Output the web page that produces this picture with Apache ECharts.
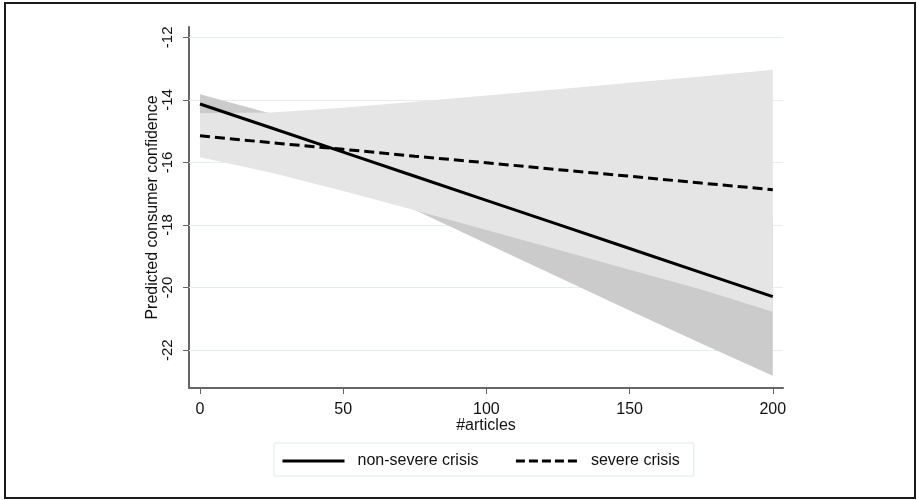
<!DOCTYPE html>
<html>
<head>
<meta charset="utf-8">
<script src="https://cdn.jsdelivr.net/npm/echarts@6/dist/echarts.min.js"></script>
<style>
html,body{margin:0;padding:0;background:#fff;}
#chart{width:917px;height:500px;}
</style>
</head>
<body>
<div id="chart"></div>
<script>
// ---- data ----
const xs = [0, 25, 50, 75, 100, 125, 150, 175, 200];
const nonSevere     = [-14.13, -14.90, -15.67, -16.44, -17.21, -17.98, -18.75, -19.52, -20.29];
const nonSevereLow  = [-14.44, -15.36, -16.43, -17.52, -18.59, -19.66, -20.73, -21.79, -22.82];
const nonSevereHigh = [-13.82, -14.44, -14.91, -15.36, -15.83, -16.30, -16.77, -17.25, -17.76];
const severe        = [-15.15, -15.37, -15.58, -15.80, -16.01, -16.23, -16.44, -16.66, -16.87];
const severeLow     = [-15.83, -16.33, -16.91, -17.53, -18.16, -18.79, -19.43, -20.06, -20.77];
const severeHigh    = [-14.43, -14.40, -14.25, -14.06, -13.86, -13.66, -13.45, -13.25, -13.04];
const xTicks = [0, 50, 100, 150, 200];
const yTicks = [-22, -20, -18, -16, -14, -12];
const seriesNames = ['non-severe crisis', 'severe crisis'];
const xTitle = '#articles';
const yTitle = 'Predicted consumer confidence';

const pairs = (arr) => xs.map((x, i) => [x, arr[i]]);
const triples = (lo, hi) => xs.map((x, i) => [x, lo[i], hi[i]]);

const FONT = 'Liberation Sans';
const chart = echarts.init(document.getElementById('chart'), null, {renderer: 'canvas'});

// confidence band drawn as one polygon through the axis scales
const band = (name, lo, hi, color, z, withGrid) => ({
  name, type: 'custom', z, silent: true,
  data: triples(lo, hi),
  encode: {x: 0, y: [1, 2]},
  renderItem: (params, api) => {
    if (params.dataIndex !== 0) return null;
    const top = xs.map((x, i) => api.coord([x, hi[i]]));
    const bot = xs.map((x, i) => api.coord([x, lo[i]])).reverse();
    return {
      type: 'polygon',
      shape: {points: top.concat(bot)},
      style: {fill: color, stroke: null}
    };
  },
  markLine: withGrid ? {
    silent: true, symbol: 'none', z: 1,
    label: {show: false},
    lineStyle: {color: '#e2eef0', width: 1, type: 'solid'},
    data: yTicks.map(v => ({yAxis: v}))
  } : undefined
});

chart.setOption({
  animation: false,
  backgroundColor: '#ffffff',
  graphic: [{
    type: 'rect', shape: {x: 5, y: 3, width: 910, height: 495},
    style: {fill: 'none', stroke: '#1a1a1a', lineWidth: 2}, z: 0
  }],
  grid: {left: 189, right: 134, top: 27, bottom: 112, containLabel: false},
  xAxis: {
    type: 'value', min: -3.84, max: 203.56,
    name: xTitle, nameLocation: 'middle', nameGap: 30, nameMoveOverlap: false,
    nameTextStyle: {fontFamily: FONT, fontSize: 16, color: '#111'},
    axisLine: {show: true, onZero: false, lineStyle: {color: '#666', width: 2}},
    axisTick: {show: true, length: 6, lineStyle: {color: '#666', width: 1}, customValues: xTicks},
    axisLabel: {fontFamily: FONT, fontSize: 16, color: '#111', margin: 14, customValues: xTicks},
    splitLine: {show: false}
  },
  yAxis: {
    type: 'value', min: -23.21, max: -11.67,
    name: yTitle, nameLocation: 'middle', nameGap: 28, nameMoveOverlap: false,
    nameTextStyle: {fontFamily: FONT, fontSize: 16, color: '#111'},
    axisLine: {show: true, onZero: false, lineStyle: {color: '#666', width: 2}},
    axisTick: {show: true, length: 6, lineStyle: {color: '#666', width: 1}, customValues: yTicks},
    axisLabel: {fontFamily: FONT, fontSize: 15, color: '#111', margin: 14, rotate: 90, customValues: yTicks},
    splitLine: {show: false}
  },
  legend: {
    data: [
      {name: seriesNames[0], lineStyle: {width: 3, type: 'solid'}},
      {name: seriesNames[1], lineStyle: {width: 3, type: [9, 4]}}
    ],
    left: 274, top: 443,
    padding: [10, 14, 7, 7],
    itemGap: 36, itemWidth: 62, itemHeight: 14,
    borderColor: '#dfe8ea', borderWidth: 1,
    itemStyle: {opacity: 0},
    textStyle: {fontFamily: FONT, fontSize: 16, color: '#111', padding: [2, 0, 0, 8]},
    selectedMode: false
  },
  series: [
    band('nsBand', nonSevereLow, nonSevereHigh, '#cbcbcb', 2, true),
    band('svBand', severeLow, severeHigh, '#e5e5e5', 3, false),
    {
      name: seriesNames[0], type: 'line', data: pairs(nonSevere), symbol: 'none', z: 5,
      lineStyle: {color: '#000', width: 3, type: 'solid'}, itemStyle: {color: '#000'}
    },
    {
      name: seriesNames[1], type: 'line', data: pairs(severe), symbol: 'none', z: 5,
      lineStyle: {color: '#000', width: 3, type: [10, 5]}, itemStyle: {color: '#000'}
    }
  ]
});
</script>
</body>
</html>
